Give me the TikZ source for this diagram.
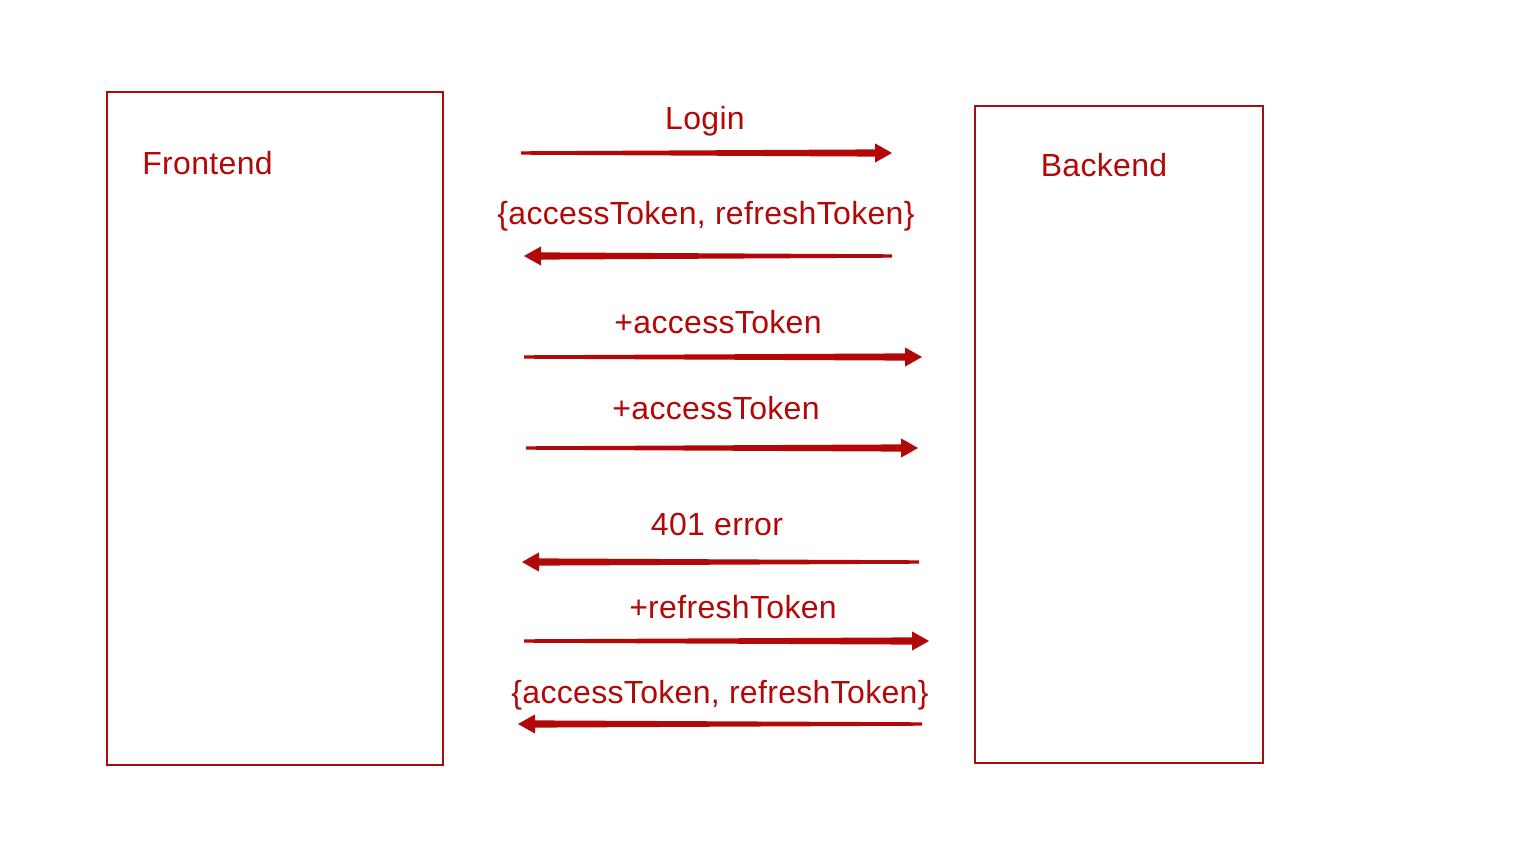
\documentclass[tikz,border=0pt]{standalone}
\usepackage{fontspec}
\setmainfont{Liberation Sans}[LetterSpace=1]
\usetikzlibrary{calc}
\definecolor{dred}{RGB}{178,8,8}
\definecolor{bred}{RGB}{165,15,15}
\tikzset{
  box/.style={draw=bred, line width=1pt, minimum width=#1, inner sep=0pt},
  lbl/.style={text=dred, font=\fontsize{16pt}{19pt}\selectfont, inner sep=0pt, anchor=base},
}
\newcommand\taparrow[2]{%
  \coordinate (hb) at ($(#2)!8.5pt!(#1)$);
  \fill[dred] ($(#1)!0.85pt!90:(#2)$) -- ($(hb)!1.8pt!90:(#2)$) -- ($(hb)!4.8pt!90:(#2)$) -- (#2)
    -- ($(hb)!4.8pt!-90:(#2)$) -- ($(hb)!1.8pt!-90:(#2)$) -- ($(#1)!0.85pt!-90:(#2)$) -- cycle;
}
\begin{document}
\begin{tikzpicture}[x=0.5pt,y=-0.5pt]
\useasboundingbox (0,0) rectangle (1535,844);
% boxes
\node[box=168pt, minimum height=336.5pt] (fe) at (275,428.5) {};
\node[box=144pt, minimum height=328.5pt] (be) at (1119,434.5) {};
\node[lbl, anchor=base west] (fet) at (142,175) {Frontend};
\node[lbl] (bet) at (1104,177) {Backend};
% labels
\node[lbl] (t1) at (705,130) {Login};
\node[lbl] (t2) at (706,225) {\{accessToken, refreshToken\}};
\node[lbl] (t3) at (718,334) {+accessToken};
\node[lbl] (t4) at (716,419) {+accessToken};
\node[lbl] (t5) at (717,535) {401 error};
\node[lbl] (t6) at (733,618) {+refreshToken};
\node[lbl] (t7) at (720,703) {\{accessToken, refreshToken\}};
% arrow end points
\coordinate (a1t) at (521,153); \coordinate (a1h) at (892,153);
\coordinate (a2t) at (892,256); \coordinate (a2h) at (524,256);
\coordinate (a3t) at (524,357); \coordinate (a3h) at (922,357);
\coordinate (a4t) at (526,448); \coordinate (a4h) at (918,448);
\coordinate (a5t) at (919,562); \coordinate (a5h) at (522,562);
\coordinate (a6t) at (524,641); \coordinate (a6h) at (929,641);
\coordinate (a7t) at (922,724); \coordinate (a7h) at (518,724);
\taparrow{a1t}{a1h}
\taparrow{a2t}{a2h}
\taparrow{a3t}{a3h}
\taparrow{a4t}{a4h}
\taparrow{a5t}{a5h}
\taparrow{a6t}{a6h}
\taparrow{a7t}{a7h}
\end{tikzpicture}
\end{document}
